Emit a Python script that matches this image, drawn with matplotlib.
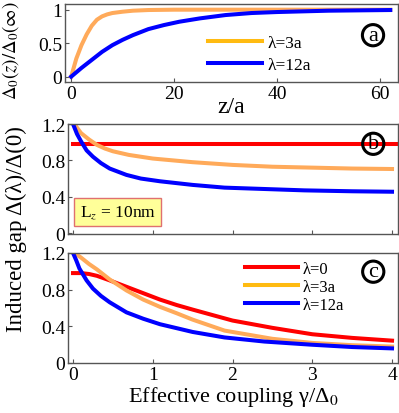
import matplotlib
matplotlib.use("Agg")
import matplotlib.pyplot as plt
from matplotlib.lines import Line2D

plt.rcParams['font.family'] = ['Liberation Serif', 'DejaVu Serif']
plt.rcParams['mathtext.fontset'] = 'stix'

# panel (a): order parameter profile
z_3a = [0, 1, 2, 3, 4, 5, 6, 7, 8, 10, 12, 15, 20, 30, 62]
d_3a = [0, 0.27, 0.47, 0.63, 0.76, 0.85, 0.90, 0.93, 0.95, 0.97, 0.985, 0.995, 1.0, 1.0, 1.0]
z_12a = [0, 2, 4, 6, 8, 10, 12, 15, 18, 21, 25, 30, 35, 40, 50, 62]
d_12a = [0, 0.13, 0.25, 0.37, 0.47, 0.55, 0.62, 0.71, 0.77, 0.82, 0.87, 0.92, 0.95, 0.965, 0.985, 0.995]

# panel (b): Lz = 10nm
gb_0 = [0, 4.1]
db_0 = [0.98, 0.98]
gb_3a = [0.02, 0.05, 0.1, 0.2, 0.3, 0.4, 0.5, 0.7, 1.0, 1.5, 2.0, 2.5, 3.0, 3.5, 4.0]
db_3a = [1.2, 1.16, 1.10, 1.03, 0.97, 0.93, 0.90, 0.86, 0.82, 0.78, 0.75, 0.73, 0.72, 0.71, 0.705]
gb_12a = [0, 0.05, 0.1, 0.17, 0.25, 0.35, 0.46, 0.67, 0.85, 1.09, 1.5, 1.9, 2.4, 2.9, 3.5, 4.0]
db_12a = [1.2, 1.09, 1.01, 0.91, 0.84, 0.77, 0.71, 0.64, 0.60, 0.57, 0.53, 0.50, 0.485, 0.47, 0.46, 0.455]

# panel (c): Lz = 40nm
gc_0 = [0, 0.1, 0.2, 0.3, 0.46, 0.67, 0.88, 1.09, 1.3, 1.5, 2.0, 2.5, 3.0, 3.5, 4.0]
dc_0 = [0.98, 0.98, 0.97, 0.95, 0.90, 0.83, 0.76, 0.69, 0.63, 0.58, 0.46, 0.38, 0.31, 0.27, 0.24]
gc_3a = [0.02, 0.1, 0.2, 0.3, 0.46, 0.67, 0.88, 1.09, 1.3, 1.5, 1.9, 2.5, 3.0, 3.5, 4.0]
dc_3a = [1.2, 1.15, 1.08, 1.02, 0.91, 0.79, 0.69, 0.61, 0.54, 0.47, 0.35, 0.26, 0.215, 0.19, 0.175]
gc_12a = [0, 0.04, 0.08, 0.17, 0.25, 0.35, 0.46, 0.67, 0.88, 1.09, 1.5, 1.9, 2.4, 3.0, 3.5, 4.0]
dc_12a = [1.2, 1.12, 1.03, 0.90, 0.81, 0.73, 0.66, 0.55, 0.48, 0.42, 0.335, 0.275, 0.23, 0.195, 0.17, 0.155]

ORANGE = '#FFAA5A'
ORANGE_LEG = '#FFBB11'
BLUE = '#0000FF'
RED = '#FF0000'
LW = 2.9

W, H = 399, 414
fig = plt.figure(figsize=(W / 100, H / 100), dpi=100)


def add_ax(left, right, top, bottom):
    return fig.add_axes([left / W, 1 - bottom / H, (right - left) / W, (bottom - top) / H])


def style(ax):
    for s in ax.spines.values():
        s.set_color('#555555')
        s.set_linewidth(1.0)
    ax.tick_params(direction='in', length=3, width=0.8, color='#555555', labelsize=14, pad=2)


def circled(ax, x, y, letter):
    ax.text(x, y, letter, transform=ax.transAxes, ha='center', va='center', fontsize=16,
            bbox=dict(boxstyle='circle,pad=0.05', fc='none', ec='black', lw=2.2))


def lz_box(ax, text):
    ax.text(0.035, 0.2, text, transform=ax.transAxes, ha='left', va='center', fontsize=12.5,
            bbox=dict(boxstyle='square,pad=0.3', fc='#FFFF99', ec='#E07070', lw=1))


# (a)
ax1 = add_ax(65, 398, 5, 83)
ax1.plot(z_3a, d_3a, color=ORANGE, lw=LW)
ax1.plot(z_12a, d_12a, color=BLUE, lw=LW)
ax1.set_xlim(-1.2, 63.5)
ax1.set_ylim(-0.08, 1.085)
ax1.set_xticks([0, 20, 40, 60])
ax1.set_yticks([0, 0.5, 1])
ax1.set_yticklabels(['0', '0.5', '1'])
style(ax1)
ax1.set_xlabel('z/a', fontsize=17, labelpad=-4)
ax1.set_ylabel(r'$\Delta_0(z)/\Delta_0(\infty)$', fontsize=13.5)
ax1.yaxis.set_label_coords(-0.132, 0.42)
h_a = [Line2D([], [], color=ORANGE_LEG, lw=LW), Line2D([], [], color=BLUE, lw=LW)]
ax1.legend(h_a, ['λ=3a', 'λ=12a'], loc='upper left', bbox_to_anchor=(0.43, 0.6), frameon=False,
           fontsize=12.5, handlelength=3.1, handletextpad=0.3, labelspacing=0.3,
           borderpad=0, borderaxespad=0)
circled(ax1, 0.925, 0.6, 'a')

# (b)
ax2 = add_ax(68, 398, 125, 235)
ax2.plot(gb_0, db_0, color=RED, lw=LW)
ax2.plot(gb_3a, db_3a, color=ORANGE, lw=LW)
ax2.plot(gb_12a, db_12a, color=BLUE, lw=LW)
ax2.set_xlim(-0.063, 4.075)
ax2.set_ylim(-0.01, 1.2)
ax2.set_xticks([0, 1, 2, 3, 4])
ax2.set_xticklabels([])
ax2.set_yticks([0, 0.4, 0.8, 1.2])
ax2.set_yticklabels(['0', '0.4', '0.8', '1.2'])
style(ax2)
circled(ax2, 0.925, 0.82, 'b')
lz_box(ax2, r'L$_z$ = 10nm')

# (c)
ax3 = add_ax(68, 398, 254, 364)
ax3.plot(gc_0, dc_0, color=RED, lw=LW)
ax3.plot(gc_3a, dc_3a, color=ORANGE, lw=LW)
ax3.plot(gc_12a, dc_12a, color=BLUE, lw=LW)
ax3.set_xlim(-0.063, 4.075)
ax3.set_ylim(-0.005, 1.2)
ax3.set_xticks([0, 1, 2, 3, 4])
ax3.set_yticks([0, 0.4, 0.8, 1.2])
ax3.set_yticklabels(['0', '0.4', '0.8', '1.2'])
style(ax3)
ax3.set_xlabel('Effective coupling γ/Δ$_0$', fontsize=16, labelpad=1)
h_c = [Line2D([], [], color=RED, lw=LW), Line2D([], [], color=ORANGE_LEG, lw=LW),
       Line2D([], [], color=BLUE, lw=LW)]
ax3.legend(h_c, ['λ=0', 'λ=3a', 'λ=12a'], loc='upper left', bbox_to_anchor=(0.536, 0.93),
           frameon=False, fontsize=12, handlelength=3.2, handletextpad=0.25, labelspacing=0.12,
           borderpad=0, borderaxespad=0)
circled(ax3, 0.925, 0.83, 'c')

fig.text(16 / W, 1 - 229 / H, 'Induced gap Δ(λ)/Δ(0)', rotation=90,
         ha='center', va='center', fontsize=16.5)

fig.savefig('out.png', dpi=100)
